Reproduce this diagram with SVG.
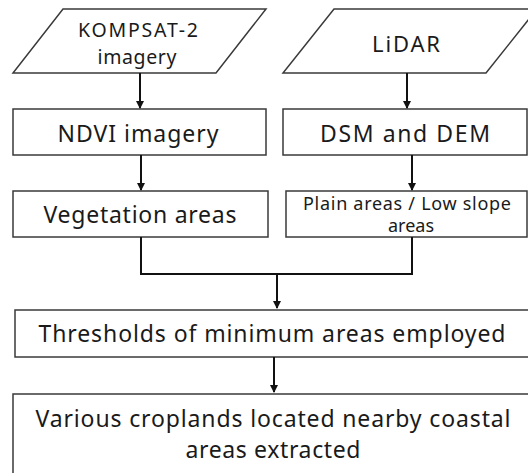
<svg xmlns="http://www.w3.org/2000/svg" width="528" height="473" viewBox="0 0 528 473">
<style>
.box{fill:#fff;stroke:#3a3a3a;stroke-width:1.5}
.t{font-family:"Noto Sans","Open Sans","DejaVu Sans",sans-serif;fill:#1a1a1a;text-anchor:middle}
.con{fill:none;stroke:#111;stroke-width:2}
</style>
<defs>
<marker id="ah" markerWidth="8" markerHeight="10" refX="7" refY="4" orient="auto" markerUnits="userSpaceOnUse" viewBox="0 0 8 8">
<path d="M0,0 L8,4 L0,8 Z" fill="#111"/>
</marker>
</defs>
<rect width="528" height="473" fill="#fff"/>
<g id="kompsat">
<polygon class="box" points="63,9 266,9 216,73 13,73"/>
<text class="t" x="138" y="37" font-size="19.5" textLength="120">KOMPSAT-2</text>
<text class="t" x="137" y="64" font-size="19.5" textLength="79">imagery</text>
</g>
<g id="lidar">
<polygon class="box" points="334,9 537,9 486,73 283,73"/>
<text class="t" x="406" y="52" font-size="22" textLength="68">LiDAR</text>
</g>
<g id="ndvi">
<rect class="box" x="13" y="109" width="253" height="46"/>
<text class="t" x="138" y="142" font-size="23" textLength="161">NDVI imagery</text>
</g>
<g id="dsm">
<rect class="box" x="283" y="109" width="244" height="46"/>
<text class="t" x="405" y="142" font-size="23" textLength="170">DSM and DEM</text>
</g>
<g id="vegetation">
<rect class="box" x="13" y="191" width="255" height="46"/>
<text class="t" x="140" y="223" font-size="23" textLength="193">Vegetation areas</text>
</g>
<g id="plain">
<rect class="box" x="286" y="191" width="241" height="46"/>
<text class="t" x="407" y="210" font-size="18" textLength="208">Plain areas / Low slope</text>
<text class="t" x="411" y="232" font-size="18" textLength="46">areas</text>
</g>
<g id="thresholds">
<rect class="box" x="15" y="310" width="520" height="47"/>
<text class="t" x="272" y="342" font-size="23" textLength="467">Thresholds of minimum areas employed</text>
</g>
<g id="croplands">
<rect class="box" x="13" y="394" width="525" height="90"/>
<text class="t" x="273" y="427" font-size="23" textLength="475">Various croplands located nearby coastal</text>
<text class="t" x="273" y="458" font-size="23" textLength="175">areas extracted</text>
</g>
<g id="connectors">
<line class="con" x1="140" y1="73" x2="140" y2="108" marker-end="url(#ah)"/>
<line class="con" x1="407" y1="73" x2="407" y2="108" marker-end="url(#ah)"/>
<line class="con" x1="141" y1="155" x2="141" y2="190" marker-end="url(#ah)"/>
<line class="con" x1="412" y1="155" x2="412" y2="190" marker-end="url(#ah)"/>
<polyline class="con" points="141,237 141,274 412,274 412,237"/>
<line class="con" x1="277" y1="274" x2="277" y2="308" marker-end="url(#ah)"/>
<line class="con" x1="274" y1="357" x2="274" y2="392" marker-end="url(#ah)"/>
</g>
</svg>
